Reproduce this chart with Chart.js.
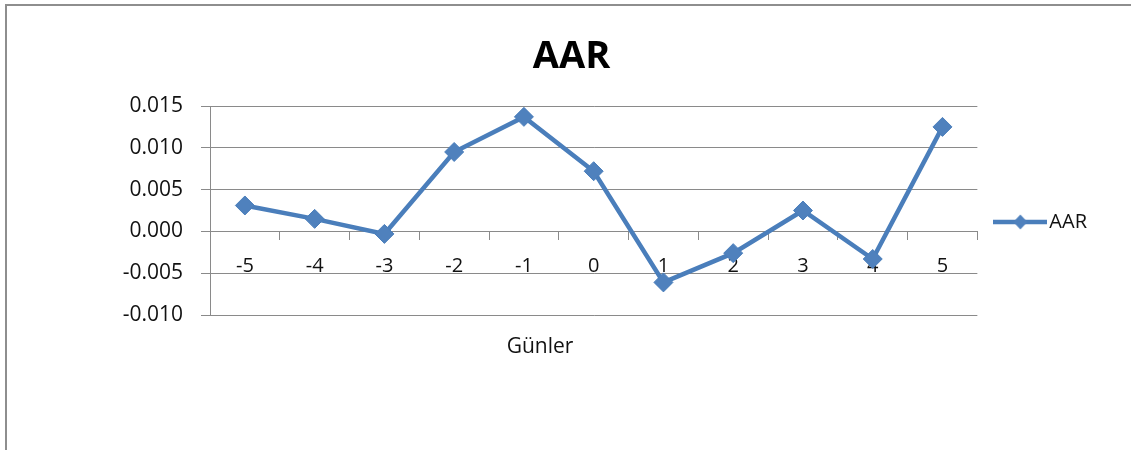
<!DOCTYPE html>
<html>
<head>
<meta charset="utf-8">
<title>AAR</title>
<script src="https://cdn.jsdelivr.net/npm/chart.js@4/dist/chart.umd.min.js"></script>
<style>
  html, body { margin: 0; padding: 0; background: #ffffff; }
  #wrap { width: 1131px; height: 450px; }
</style>
</head>
<body>
<div id="wrap"><canvas id="c" width="1131" height="450"></canvas></div>
<script>
// Event-window days and average abnormal returns
const days = ['-5', '-4', '-3', '-2', '-1', '0', '1', '2', '3', '4', '5'];
const aar = [0.0031, 0.0015, -0.0003, 0.0095, 0.0137, 0.0072, -0.0061, -0.0026, 0.0025, -0.0033, 0.0125];
const seriesName = 'AAR';
const chartTitle = 'AAR';
const xAxisTitle = 'Günler';
const yTickValues = [-0.010, -0.005, 0.000, 0.005, 0.010, 0.015];

const FONT = "'Open Sans', 'DejaVu Sans', sans-serif";
const LINE_BLUE = '#4A7EBB';
const MARK_BLUE = '#4F81BD';
const GRID = '#8a8a8a';
const TEXT = '#111111';

Chart.defaults.font.family = FONT;

// Legend glyph: short line with a diamond marker in the middle
function legendGlyph() {
  const cv = document.createElement('canvas');
  cv.width = 54; cv.height = 18;
  const g = cv.getContext('2d');
  g.strokeStyle = LINE_BLUE;
  g.lineWidth = 4.5;
  g.beginPath(); g.moveTo(0, 9); g.lineTo(54, 9); g.stroke();
  g.fillStyle = MARK_BLUE;
  g.beginPath();
  g.moveTo(27, 1.5); g.lineTo(34, 9); g.lineTo(27, 16.5); g.lineTo(20, 9);
  g.closePath(); g.fill();
  return cv;
}

// Outer frame of the chart object
const framePlugin = {
  id: 'frame',
  beforeDraw(chart) {
    const ctx = chart.ctx;
    ctx.save();
    ctx.strokeStyle = '#8e8e8e';
    ctx.lineWidth = 2;
    ctx.beginPath();
    ctx.moveTo(6, 450); ctx.lineTo(6, 5); ctx.lineTo(1131, 5);
    ctx.stroke();
    ctx.restore();
  }
};

// Category axis title placed below the plot
const axisTitlePlugin = {
  id: 'axisTitle',
  afterDraw(chart) {
    const {ctx, chartArea} = chart;
    ctx.save();
    ctx.font = '21px ' + FONT;
    ctx.fillStyle = TEXT;
    ctx.textAlign = 'center';
    ctx.textBaseline = 'middle';
    ctx.fillText(xAxisTitle, chartArea.left + 330, chartArea.bottom + 32);
    ctx.restore();
  }
};

new Chart(document.getElementById('c'), {
  type: 'line',
  data: {
    labels: days,
    datasets: [{
      label: seriesName,
      data: aar,
      borderColor: LINE_BLUE,
      backgroundColor: MARK_BLUE,
      borderWidth: 4.5,
      pointStyle: 'rectRot',
      pointRadius: 9.5,
      pointHoverRadius: 9.5,
      pointBackgroundColor: MARK_BLUE,
      pointBorderColor: LINE_BLUE,
      pointBorderWidth: 1,
      tension: 0,
      fill: false
    }]
  },
  options: {
    responsive: false,
    animation: false,
    events: [],
    layout: { padding: { top: 11, left: 46, right: 34, bottom: 135 } },
    plugins: {
      title: {
        display: true,
        text: chartTitle,
        color: '#000000',
        font: { size: 38, weight: 'bold', family: FONT, lineHeight: 1 },
        padding: { top: 27, bottom: 30 }
      },
      legend: {
        display: true,
        position: 'right',
        align: 'center',
        fullSize: false,
        title: { display: true, text: '', font: { size: 10, lineHeight: 1 }, padding: { top: 13, bottom: 0 } },
        labels: {
          usePointStyle: true,
          pointStyle: legendGlyph(),
          pointStyleWidth: 38,
          padding: 24,
          color: TEXT,
          font: { size: 20, family: FONT }
        }
      },
      tooltip: { enabled: false }
    },
    scales: {
      x: {
        type: 'category',
        position: { y: 0 },
        offset: true,
        grid: {
          offset: true,
          drawOnChartArea: false,
          drawTicks: true,
          tickLength: 8,
          color: GRID,
          lineWidth: 1
        },
        border: { display: true, color: GRID, width: 1 },
        ticks: { color: TEXT, font: { size: 20 }, padding: 15, maxRotation: 0, autoSkip: false }
      },
      y: {
        min: yTickValues[0],
        max: yTickValues[yTickValues.length - 1],
        afterFit(scale) { scale.width = 164; },
        afterBuildTicks(scale) { scale.ticks = yTickValues.map(v => ({ value: v })); },
        grid: { color: GRID, lineWidth: 1, drawTicks: true, tickLength: 9 },
        border: { display: true, color: GRID, width: 1 },
        ticks: {
          color: TEXT,
          font: { size: 21 },
          padding: 18,
          callback: v => (Math.abs(v) < 1e-9 ? 0 : v).toFixed(3)
        }
      }
    }
  },
  plugins: [framePlugin, axisTitlePlugin]
});
</script>
</body>
</html>
